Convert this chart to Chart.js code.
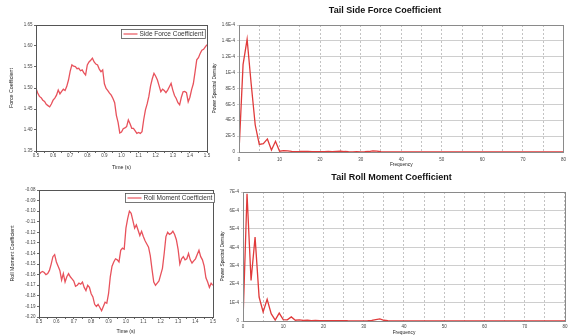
<!DOCTYPE html>
<html>
<head>
<meta charset="utf-8">
<script src="https://cdn.jsdelivr.net/npm/chart.js@4.4.1/dist/chart.umd.min.js"></script>
<style>
  html, body { margin: 0; padding: 0; background: #fff; }
  body { width: 571px; height: 336px; position: relative; overflow: hidden; }
  .pane { position: absolute; }
</style>
</head>
<body>
<div class="pane" style="left:0;top:0;width:215px;height:175px"><canvas id="sideTime"></canvas></div>
<div class="pane" style="left:205px;top:0;width:366px;height:170px"><canvas id="sidePsd"></canvas></div>
<div class="pane" style="left:0;top:165px;width:216px;height:171px"><canvas id="rollTime"></canvas></div>
<div class="pane" style="left:215px;top:168px;width:356px;height:168px"><canvas id="rollPsd"></canvas></div>
<script>
// Sample times (s)
const times = [
  0.50,0.51,0.52,0.53,0.54,0.55,0.56,0.57,0.58,0.59,
  0.60,0.61,0.62,0.63,0.64,0.65,0.66,0.67,0.68,0.69,
  0.70,0.71,0.72,0.73,0.74,0.75,0.76,0.77,0.78,0.79,
  0.80,0.81,0.82,0.83,0.84,0.85,0.86,0.87,0.88,0.89,
  0.90,0.91,0.92,0.93,0.94,0.95,0.96,0.97,0.98,0.99,
  1.00,1.01,1.02,1.03,1.04,1.05,1.06,1.07,1.08,1.09,
  1.10,1.11,1.12,1.13,1.14,1.15,1.16,1.17,1.18,1.19,
  1.20,1.21,1.22,1.23,1.24,1.25,1.26,1.27,1.28,1.29,
  1.30,1.31,1.32,1.33,1.34,1.35,1.36,1.37,1.38,1.39,
  1.40,1.41,1.42,1.43,1.44,1.45,1.46,1.47,1.48,1.49,
  1.50
];

// Tail side force coefficient history
const sideForce = [
  1.499,1.488,1.480,1.477,1.471,1.468,1.461,1.458,1.455,1.462,
  1.471,1.476,1.483,1.495,1.486,1.492,1.497,1.494,1.504,1.519,
  1.540,1.555,1.552,1.551,1.546,1.547,1.541,1.543,1.536,1.531,
  1.555,1.562,1.566,1.571,1.562,1.557,1.555,1.545,1.539,1.543,
  1.510,1.499,1.494,1.488,1.483,1.475,1.465,1.435,1.418,1.393,
  1.395,1.403,1.405,1.408,1.424,1.415,1.404,1.404,1.398,1.392,
  1.394,1.392,1.396,1.425,1.448,1.462,1.480,1.505,1.522,1.535,
  1.528,1.519,1.505,1.491,1.497,1.494,1.489,1.495,1.503,1.511,
  1.495,1.482,1.475,1.465,1.460,1.478,1.491,1.492,1.489,1.467,
  1.478,1.496,1.510,1.538,1.567,1.572,1.582,1.590,1.592,1.598,
  1.603
];

// Tail roll moment coefficient history
const rollMoment = [
  -0.160,-0.158,-0.157,-0.158,-0.160,-0.159,-0.156,-0.150,-0.143,-0.141,
  -0.148,-0.152,-0.156,-0.165,-0.159,-0.167,-0.162,-0.159,-0.162,-0.164,
  -0.166,-0.171,-0.170,-0.168,-0.169,-0.167,-0.172,-0.175,-0.170,-0.172,
  -0.178,-0.181,-0.188,-0.190,-0.188,-0.191,-0.194,-0.190,-0.186,-0.187,
  -0.178,-0.162,-0.152,-0.148,-0.145,-0.146,-0.148,-0.137,-0.135,-0.136,
  -0.116,-0.107,-0.100,-0.102,-0.109,-0.116,-0.113,-0.118,-0.123,-0.119,
  -0.124,-0.128,-0.131,-0.134,-0.142,-0.155,-0.167,-0.170,-0.168,-0.166,
  -0.160,-0.154,-0.140,-0.124,-0.120,-0.122,-0.121,-0.119,-0.122,-0.127,
  -0.136,-0.150,-0.145,-0.143,-0.146,-0.145,-0.140,-0.146,-0.149,-0.147,
  -0.145,-0.141,-0.137,-0.143,-0.146,-0.152,-0.163,-0.167,-0.172,-0.168,
  -0.170
];

// Frequency bins (Hz)
const freqs = [
   0, 1, 2, 3, 4, 5, 6, 7, 8, 9,10,11,12,13,14,15,16,17,18,19,
  20,21,22,23,24,25,26,27,28,29,30,31,32,33,34,35,36,37,38,39,
  40,41,42,43,44,45,46,47,48,49,50,51,52,53,54,55,56,57,58,59,
  60,61,62,63,64,65,66,67,68,69,70,71,72,73,74,75,76,77,78,79,
  80
];

// Power spectral density of the side force coefficient
const sidePsd = [
  0, 1.10e-4, 1.42e-4, 8.6e-5, 3.4e-5, 9.5e-6, 1.05e-5, 1.65e-5, 2.5e-6, 1.35e-5,
  1.0e-6, 1.8e-6, 1.5e-6, 0.8e-6, 0.5e-6, 0.6e-6, 0.9e-6, 0.7e-6, 0.4e-6, 0.5e-6,
  0.3e-6, 0.4e-6, 0.6e-6, 0.5e-6, 0.9e-6, 1.2e-6, 0.6e-6, 0.3e-6, 0.2e-6, 0.3e-6,
  0.2e-6, 0.3e-6, 0.6e-6, 1.3e-6, 1.0e-6, 0.4e-6, 0.2e-6, 0.2e-6, 0.1e-6, 0.2e-6,
  0.1e-6, 0.1e-6, 0.2e-6, 0.1e-6, 0.1e-6, 0.1e-6, 0.1e-6, 0.2e-6, 0.1e-6, 0.1e-6,
  0.1e-6, 0.1e-6, 0.1e-6, 0.1e-6, 0.1e-6, 0.1e-6, 0.1e-6, 0.1e-6, 0.1e-6, 0.1e-6,
  0.1e-6, 0.1e-6, 0.1e-6, 0.1e-6, 0.1e-6, 0.1e-6, 0.1e-6, 0.1e-6, 0.1e-6, 0.1e-6,
  0.1e-6, 0.1e-6, 0.1e-6, 0.1e-6, 0.1e-6, 0.1e-6, 0.1e-6, 0.1e-6, 0.1e-6, 0.1e-6,
  0.1e-6
];

// Power spectral density of the roll moment coefficient
const rollPsd = [
  0, 6.9e-4, 2.2e-4, 4.55e-4, 1.3e-4, 4.9e-5, 1.18e-4, 4.0e-5, 5e-6, 4.3e-5,
  8e-6, 6e-6, 2.2e-5, 4e-6, 6e-6, 3e-6, 4e-6, 2e-6, 3e-6, 2e-6,
  2e-6, 1.5e-6, 2e-6, 1.5e-6, 2e-6, 2.5e-6, 1.5e-6, 1e-6, 1e-6, 1e-6,
  1e-6, 1.5e-6, 3e-6, 8e-6, 1.1e-5, 4e-6, 1.5e-6, 1e-6, 1e-6, 1e-6,
  1e-6, 1e-6, 1e-6, 1e-6, 1e-6, 1e-6, 1e-6, 1e-6, 1e-6, 1e-6,
  1e-6, 1e-6, 1e-6, 1e-6, 1e-6, 1e-6, 1e-6, 1e-6, 1e-6, 1e-6,
  1e-6, 1e-6, 1e-6, 1e-6, 1e-6, 1e-6, 1e-6, 1e-6, 1e-6, 1e-6,
  1e-6, 1e-6, 1e-6, 1e-6, 1e-6, 1e-6, 1e-6, 1e-6, 1e-6, 1e-6,
  1e-6
];

const FONT = '"Liberation Sans", Arial, sans-serif';
const TS_COLOR = '#e8525c';
const PSD_COLOR = '#e03a3a';

function pairs(xs, ys) { return xs.map((x, i) => ({ x: x, y: ys[i] })); }

// Rectangle around the plotting area
const framePlugin = {
  id: 'frame',
  afterDatasetsDraw(chart, args, opts) {
    const a = chart.chartArea, ctx = chart.ctx;
    ctx.save();
    ctx.strokeStyle = opts.color || '#555';
    ctx.lineWidth = 1;
    ctx.strokeRect(Math.round(a.left) + 0.5, Math.round(a.top) + 0.5,
                   Math.round(a.right - a.left), Math.round(a.bottom - a.top));
    ctx.restore();
  }
};

// Boxed legend in the upper right corner of the plotting area
const boxLegendPlugin = {
  id: 'boxLegend',
  afterDraw(chart, args, opts) {
    if (!opts.show) return;
    const ds = chart.data.datasets[0];
    const a = chart.chartArea, ctx = chart.ctx;
    ctx.save();
    ctx.font = opts.fontSize + 'px ' + FONT;
    const tw = ctx.measureText(ds.label).width;
    const sample = 14, gap = 2, padX = 2, h = 9;
    const w = padX + sample + gap + tw + padX;
    const x = Math.round(a.right - opts.right - w) + 0.5;
    const y = Math.round(a.top + opts.top) + 0.5;
    ctx.fillStyle = '#fff';
    ctx.fillRect(x, y, w, h);
    ctx.strokeStyle = '#555';
    ctx.lineWidth = 0.8;
    ctx.strokeRect(x, y, w, h);
    ctx.strokeStyle = ds.borderColor;
    ctx.lineWidth = 1.2;
    ctx.beginPath();
    ctx.moveTo(x + padX, y + h / 2);
    ctx.lineTo(x + padX + sample, y + h / 2);
    ctx.stroke();
    ctx.fillStyle = '#333';
    ctx.textBaseline = 'middle';
    ctx.fillText(ds.label, x + padX + sample + gap, y + h / 2 + 0.3);
    ctx.restore();
  }
};

function fixedSize(prop, value) {
  return function (scale) { scale[prop] = value; };
}

function timeChart(id, label, values, yMin, yMax, yStep, yTitle, geom) {
  return new Chart(document.getElementById(id), {
    type: 'line',
    data: { datasets: [{
      label: label,
      data: pairs(times, values),
      borderColor: TS_COLOR,
      backgroundColor: TS_COLOR,
      borderWidth: 1.3,
      pointRadius: 0,
      tension: 0
    }]},
    options: {
      responsive: true,
      maintainAspectRatio: false,
      animation: false,
      events: [],
      layout: { padding: { top: geom.top, right: geom.right, left: 0, bottom: 0 } },
      plugins: {
        legend: { display: false },
        tooltip: { enabled: false },
        frame: { color: '#555' },
        boxLegend: { show: true, fontSize: 6.5, right: geom.legRight, top: geom.legTop }
      },
      scales: {
        x: {
          type: 'linear', min: 0.5, max: 1.5,
          afterFit: fixedSize('height', geom.xh),
          grid: { display: true, drawOnChartArea: false, drawTicks: true, tickLength: 2, color: '#666' },
          border: { display: true, color: '#555' },
          ticks: {
            stepSize: 0.05, autoSkip: false, maxRotation: 0, padding: 0,
            color: '#444', font: { family: FONT, size: 4.5 },
            callback: v => (Math.round(v * 100) % 10 === 0 ? v.toFixed(1) : '')
          },
          title: { display: true, text: 'Time (s)', color: '#222',
                   font: { family: FONT, size: 5.2 }, padding: { top: 0, bottom: geom.xtPad } }
        },
        y: {
          min: yMin, max: yMax,
          afterFit: fixedSize('width', geom.yw),
          grid: { display: true, drawOnChartArea: false, drawTicks: true, tickLength: 2, color: '#666' },
          border: { display: true, color: '#555' },
          ticks: {
            stepSize: yStep, autoSkip: false, padding: 1.5,
            color: '#444', font: { family: FONT, size: 4.5 },
            callback: v => v.toFixed(2)
          },
          title: { display: true, text: yTitle, color: '#222',
                   font: { family: FONT, size: 5.3 }, padding: { top: geom.ytPad, bottom: 0 } }
        }
      }
    },
    plugins: [framePlugin, boxLegendPlugin]
  });
}

function expLabel(v) {
  if (Math.abs(v) < 1e-12) return '0';
  return Number(v.toPrecision(6)).toExponential().toUpperCase();
}

function psdChart(id, label, values, yMax, yStep, title, geom) {
  return new Chart(document.getElementById(id), {
    type: 'line',
    data: { datasets: [{
      label: label,
      data: pairs(freqs, values),
      borderColor: PSD_COLOR,
      backgroundColor: PSD_COLOR,
      borderWidth: 1.3,
      pointRadius: 0,
      tension: 0
    }]},
    options: {
      responsive: true,
      maintainAspectRatio: false,
      animation: false,
      events: [],
      layout: { padding: { top: 0, right: geom.right, left: 0, bottom: 0 } },
      plugins: {
        legend: { display: false },
        tooltip: { enabled: false },
        frame: { color: '#8a8a8a' },
        boxLegend: { show: false },
        title: {
          display: true, text: title, color: '#111',
          font: { family: FONT, size: 9, weight: 'bold' },
          padding: { top: geom.tTop, bottom: geom.tBottom }
        }
      },
      scales: {
        x: {
          type: 'linear', min: 0, max: 80,
          afterFit: fixedSize('height', geom.xh),
          grid: { display: true, drawOnChartArea: true, drawTicks: false, color: '#b4b4b4', lineWidth: 0.8 },
          border: { display: false, dash: [2, 2] },
          ticks: {
            stepSize: 5, autoSkip: false, maxRotation: 0, padding: geom.xlPad,
            color: '#444', font: { family: FONT, size: 4.5 },
            callback: v => (Math.round(v) % 10 === 0 ? String(Math.round(v)) : '')
          },
          title: { display: true, text: 'Frequency', color: '#222',
                   font: { family: FONT, size: 4.8 }, padding: { top: 0, bottom: geom.xtPad } }
        },
        y: {
          min: 0, max: yMax,
          afterFit: fixedSize('width', geom.yw),
          grid: { display: true, drawOnChartArea: true, drawTicks: true, tickLength: 2, color: '#c2c2c2', lineWidth: 0.8 },
          border: { display: false },
          ticks: {
            stepSize: yStep, autoSkip: false, padding: 2,
            color: '#444', font: { family: FONT, size: 4.5 },
            callback: expLabel
          },
          title: { display: true, text: 'Power Spectral Density', color: '#222',
                   font: { family: FONT, size: 4.8 }, padding: { top: geom.ytPad, bottom: 0 } }
        }
      }
    },
    plugins: [framePlugin, boxLegendPlugin]
  });
}

timeChart('sideTime', 'Side Force Coefficient', sideForce, 1.35, 1.65, 0.05, 'Force Coefficient',
  { top: 25, right: 8, xh: 24, yw: 36, xtPad: 4.4, ytPad: 8.8, legRight: 2, legTop: 3.5 });

psdChart('sidePsd', 'Side Force PSD', sidePsd, 1.6e-4, 2e-5, 'Tail Side Force Coefficient',
  { right: 6, xh: 18, yw: 34, tTop: 5, tBottom: 9.2, xlPad: 5, xtPad: 2, ytPad: 7 });

timeChart('rollTime', 'Roll Moment Coefficient', rollMoment, -0.20, -0.08, 0.01, 'Roll Moment Coefficient',
  { top: 25, right: 2, xh: 19, yw: 39, xtPad: 1.2, ytPad: 9.5, legRight: -1, legTop: 2.5 });

psdChart('rollPsd', 'Roll Moment PSD', rollPsd, 7e-4, 1e-4, 'Tail Roll Moment Coefficient',
  { right: 3, xh: 15, yw: 28, tTop: 4.3, tBottom: 8.9, xlPad: 3.5, xtPad: 0, ytPad: 5 });
</script>
</body>
</html>
